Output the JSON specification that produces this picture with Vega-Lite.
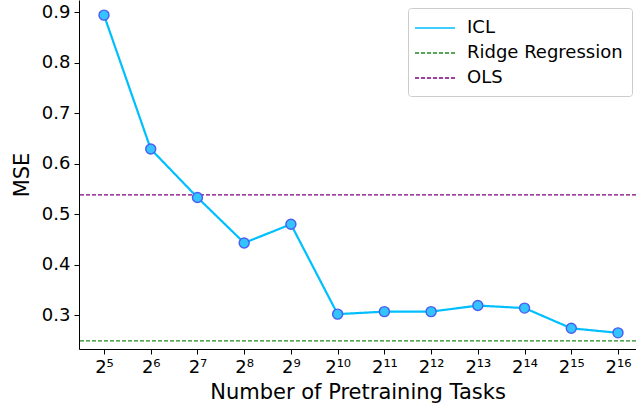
{
  "$schema": "https://vega.github.io/schema/vega-lite/v6.json",
  "width": 557,
  "height": 349,
  "padding": {"left": 79, "top": 0, "right": 0, "bottom": 59},
  "autosize": {"type": "none"},
  "background": "white",
  "config": {
    "view": {"stroke": null},
    "font": "DejaVu Sans",
    "axis": {"labelFont": "DejaVu Sans", "titleFont": "DejaVu Sans", "labelColor": "black", "titleColor": "black", "domainColor": "black", "tickColor": "black", "grid": false, "titleFontWeight": "normal"}
  },
  "datasets": {
    "icl": [
      {"logTasks": 5, "mse": 0.894, "series": "ICL"},
      {"logTasks": 6, "mse": 0.629, "series": "ICL"},
      {"logTasks": 7, "mse": 0.533, "series": "ICL"},
      {"logTasks": 8, "mse": 0.443, "series": "ICL"},
      {"logTasks": 9, "mse": 0.480, "series": "ICL"},
      {"logTasks": 10, "mse": 0.302, "series": "ICL"},
      {"logTasks": 11, "mse": 0.307, "series": "ICL"},
      {"logTasks": 12, "mse": 0.307, "series": "ICL"},
      {"logTasks": 13, "mse": 0.319, "series": "ICL"},
      {"logTasks": 14, "mse": 0.314, "series": "ICL"},
      {"logTasks": 15, "mse": 0.274, "series": "ICL"},
      {"logTasks": 16, "mse": 0.265, "series": "ICL"}
    ],
    "baselines": [
      {"series": "Ridge Regression", "mse": 0.249},
      {"series": "OLS", "mse": 0.538}
    ]
  },
  "layer": [
    {
      "data": {"name": "baselines"},
      "mark": {"type": "rule", "strokeWidth": 1.2},
      "encoding": {
        "y": {"field": "mse", "type": "quantitative", "scale": {"domain": [0.233, 0.924], "zero": false, "nice": false}},
        "color": {"field": "series", "type": "nominal"},
        "strokeDash": {"field": "series", "type": "nominal"}
      }
    },
    {
      "data": {"name": "icl"},
      "mark": {"type": "line", "strokeWidth": 2.2, "clip": true},
      "encoding": {
        "x": {
          "field": "logTasks", "type": "quantitative",
          "scale": {"domain": [4.465, 16.385], "nice": false, "zero": false},
          "axis": {
            "values": [5, 6, 7, 8, 9, 10, 11, 12, 13, 14, 15, 16],
            "labelExpr": "'2' + ['⁵','⁶','⁷','⁸','⁹','¹⁰','¹¹','¹²','¹³','¹⁴','¹⁵','¹⁶'][datum.value - 5]",
            "title": "Number of Pretraining Tasks",
            "titleFontSize": 21,
            "labelFontSize": 18,
            "tickSize": 5,
            "labelPadding": 4,
            "titlePadding": 5
          }
        },
        "y": {
          "field": "mse", "type": "quantitative",
          "scale": {"domain": [0.233, 0.924], "zero": false, "nice": false},
          "axis": {
            "values": [0.3, 0.4, 0.5, 0.6, 0.7, 0.8, 0.9],
            "format": ".1f",
            "title": "MSE",
            "titleFontSize": 21,
            "labelFontSize": 18,
            "tickSize": 5,
            "labelPadding": 4,
            "titlePadding": 9
          }
        },
        "color": {
          "field": "series", "type": "nominal",
          "scale": {"domain": ["ICL", "Ridge Regression", "OLS"], "range": ["#00bfff", "#228b22", "#800080"]},
          "legend": {
            "title": null,
            "orient": "none",
            "legendX": 329,
            "legendY": 8,
            "symbolType": "M-2,0H2",
            "symbolSize": 400,
            "symbolOffset": 7,
            "symbolStrokeWidth": 1.6,
            "labelFontSize": 18,
            "labelFont": "DejaVu Sans",
            "labelColor": "black",
            "labelOffset": 21,
            "rowPadding": 5,
            "padding": 9,
            "strokeColor": "#cccccc",
            "cornerRadius": 3,
            "fillColor": "white"
          }
        },
        "strokeDash": {
          "field": "series", "type": "nominal",
          "scale": {"domain": ["ICL", "Ridge Regression", "OLS"], "range": [[1, 0], [4, 2], [4, 2]]}
        }
      }
    },
    {
      "data": {"name": "icl"},
      "mark": {"type": "point", "filled": true, "size": 100, "fill": "#33c4ff", "stroke": "#4c5cf0", "strokeWidth": 1.4, "opacity": 1},
      "encoding": {
        "x": {"field": "logTasks", "type": "quantitative"},
        "y": {"field": "mse", "type": "quantitative"}
      }
    }
  ]
}
